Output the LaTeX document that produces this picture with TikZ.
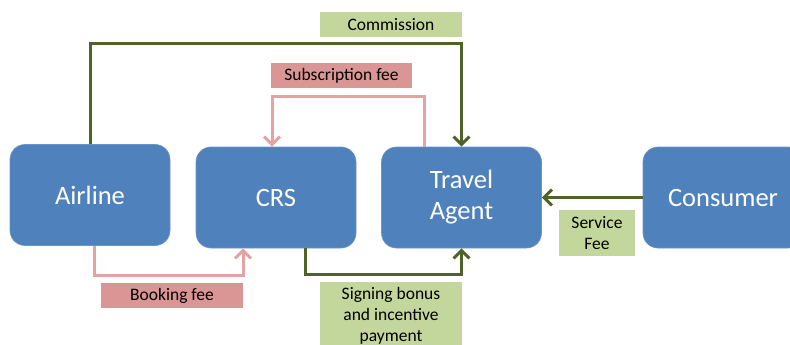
\documentclass[tikz,border=0pt]{standalone}
\usepackage{fontspec}
\setmainfont{Carlito}
\usetikzlibrary{arrows.meta,calc}
\definecolor{boxblue}{HTML}{4F81BD}
\definecolor{boxedge}{HTML}{6A93C6}
\definecolor{lblgreen}{HTML}{C3D69B}
\definecolor{lblpink}{HTML}{D99694}
\definecolor{lingreen}{HTML}{4F6228}
\definecolor{linpink}{HTML}{E2A3A2}
\tikzset{
  actor/.style={rectangle, rounded corners=15pt, fill=boxblue, draw=boxedge, line width=0.6pt,
    minimum width=160pt, minimum height=101pt, text=white, align=center,
    font=\fontsize{26.5}{31}\selectfont, inner sep=0pt},
  glabel/.style={rectangle, fill=lblgreen, text=black, align=center, inner sep=0pt,
    font=\fontsize{17.5}{21}\selectfont},
  plabel/.style={rectangle, fill=lblpink, text=black, align=center, inner sep=0pt,
    font=\fontsize{17.5}{21}\selectfont},
  gflow/.style={draw=lingreen, line width=3pt, -{Straight Barb[length=8pt,width=16pt,line width=3pt]}},
  pflow/.style={draw=linpink, line width=3pt, -{Straight Barb[length=8pt,width=16pt,line width=3pt]}},
}
\begin{document}
\begin{tikzpicture}[x=1pt,y=-1pt]
\useasboundingbox (0,0) rectangle (790,345);
\begin{scope}
\clip (0,0) rectangle (790,345);
\node[actor] (air) at (90,195) {Airline};
\node[actor] (crs) at (276,197.5) {CRS};
\node[actor] (ta) at (461.5,197.5) {Travel\\Agent};
\node[actor] (con) at (723,197.5) {Consumer};

\node[glabel, minimum width=142pt, minimum height=25pt] (lcom) at (391,24.5) {Commission};
\node[plabel, minimum width=141pt, minimum height=25pt] (lsub) at (341.5,75.5) {Subscription fee};
\node[plabel, minimum width=142pt, minimum height=25pt] (lbook) at (172,295.5) {Booking fee};
\node[glabel, minimum width=142pt, minimum height=68pt] (lsign) at (391,316) {Signing bonus\\and incentive\\payment};
\node[glabel, minimum width=76pt, minimum height=46pt] (lserv) at (597,233) {Service\\Fee};

\coordinate (ycom) at (0,44);
\coordinate (ysub) at (0,96);
\coordinate (ybook) at (0,275);
\coordinate (ysign) at (0,274);
\coordinate (subsrc) at ([xshift=-37.5pt]ta.north);
\coordinate (subdst) at ([xshift=-4pt]crs.north);
\coordinate (booksrc) at ([xshift=4pt]air.south);
\coordinate (bookdst) at ([xshift=-33pt]crs.south);
\coordinate (signsrc) at ([xshift=29pt]crs.south);

\draw[gflow] (air.north) |- (ycom -| ta.north) -- (ta.north);
\draw[pflow] (subsrc) |- (ysub -| subdst) -- (subdst);
\draw[pflow] (booksrc) |- (ybook -| bookdst) -- (bookdst);
\draw[gflow] (signsrc) |- (ysign -| ta.south) -- (ta.south);
\draw[gflow] (con.west) -- (ta.east);
\end{scope}
\end{tikzpicture}
\end{document}
